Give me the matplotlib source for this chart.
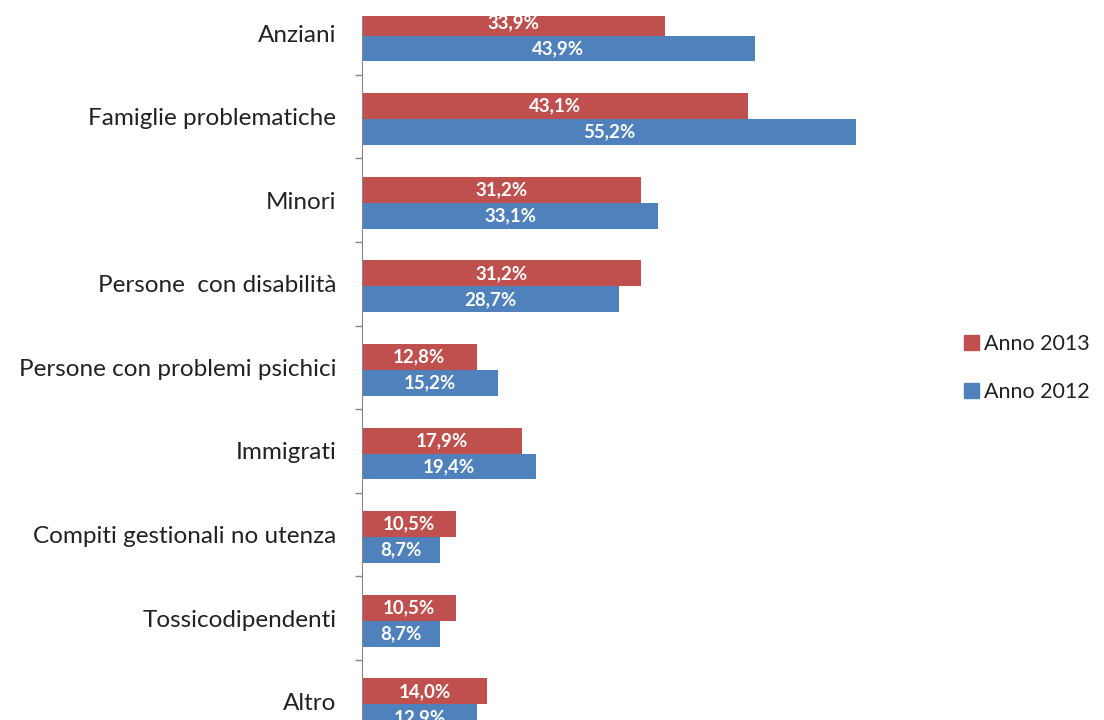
import numpy as np
import matplotlib.pyplot as plt
from matplotlib.patches import Patch

# --- data
categorie = ["Anziani", "Famiglie problematiche", "Minori",
             "Persone  con disabilità", "Persone con problemi psichici",
             "Immigrati", "Compiti gestionali no utenza",
             "Tossicodipendenti", "Altro"]
anno_2013 = [33.9, 43.1, 31.2, 31.2, 12.8, 17.9, 10.5, 10.5, 14.0]
anno_2012 = [43.9, 55.2, 33.1, 28.7, 15.2, 19.4, 8.7, 8.7, 12.9]

col_2013 = "#C0504D"
col_2012 = "#4F81BD"

plt.rcParams['font.family'] = ['Lato', 'DejaVu Sans']

fig = plt.figure(figsize=(11.04, 7.2), dpi=100)
ax = fig.add_axes([362/1104, 0.0, (899-362)/1104, (720-16)/720])

y = np.arange(len(categorie))
h = 0.31
off = 0.03
b13 = ax.barh(y - h/2 + off, anno_2013, height=h, color=col_2013, label="Anno 2013")
b12 = ax.barh(y + h/2 + off, anno_2012, height=h, color=col_2012, label="Anno 2012")

# value labels inside the bars
for bars, vals in ((b13, anno_2013), (b12, anno_2012)):
    for bar, v in zip(bars, vals):
        ax.text(bar.get_x() + bar.get_width()/2, bar.get_y() + bar.get_height()/2,
                f"{v:.1f}%".replace(".", ","), ha="center", va="center",
                color="white", fontsize=13.5, fontweight="bold", clip_on=True)

ax.set_yticks(y)
ax.set_yticklabels(categorie, fontsize=17.5, color="#222222")
ax.tick_params(axis='y', which='major', length=0, pad=18.5)
ax.set_yticks(np.arange(0.5, len(categorie) - 1), minor=True)
ax.tick_params(axis='y', which='minor', length=5, color="#888888", width=1)
ax.set_xticks([])
for s in ("top", "right", "bottom"):
    ax.spines[s].set_visible(False)
ax.spines["left"].set_color("#888888")

ax.set_xlim(0, 60)
ax.set_ylim((720-33)/83.6, (16-33)/83.6)

handles = [Patch(color=col_2013, label="Anno 2013"),
           Patch(color=col_2012, label="Anno 2012")]
fig.legend(handles=handles, loc="center left", bbox_to_anchor=(945/1104, 1 - 368/720),
           frameon=False, fontsize=15.5, handlelength=0.7, handleheight=0.7,
           handletextpad=0.2, labelspacing=1.3, labelcolor="#222222")

fig.savefig("out.png", dpi=100)
